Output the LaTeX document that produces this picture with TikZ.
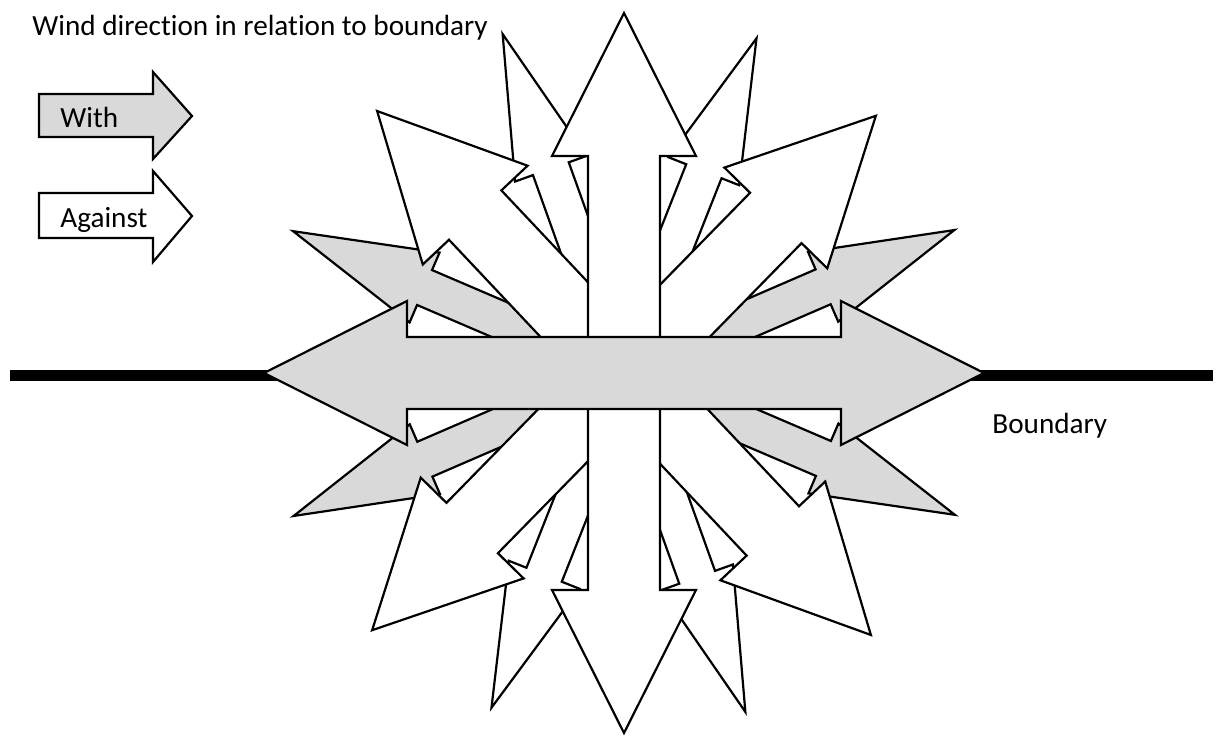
\documentclass[tikz,border=0pt]{standalone}
\usepackage{fontspec}
\setmainfont[Ligatures=NoCommon]{Carlito}
\usetikzlibrary{calc}
\definecolor{windgray}{RGB}{217,217,217}
% double block arrow through (ctr): angle, fill, head half-width, shaft half-width
\newcommand{\windarrow}[4]{%
  \filldraw[arrbox,fill=#2,shift={(ctr)},rotate=#1]
    (-360,0) -- (-217,#3) -- (-217,#4) -- (217,#4) -- (217,#3) -- (360,0)
    -- (217,-#3) -- (217,-#4) -- (-217,-#4) -- (-217,-#3) -- cycle;}

\begin{document}
\begin{tikzpicture}[x=0.5pt,y=0.5pt,
  arrbox/.style={draw=black,line width=1.1pt,line join=miter},
  lbl/.style={inner sep=0pt,anchor=base west,font=\fontsize{14.6}{17}\selectfont},
  bound/.style={line width=5.5pt}]
\useasboundingbox (0,0) rectangle (1222,736);
\coordinate (ctr) at (624,363);
\coordinate (bl) at (10,361);
\coordinate (br) at (1213,361);
\draw[bound] (bl) -- (br);
% narrow ones first, wide ones on top
\foreach \a in {23.4,156.8} {\windarrow{\a}{windgray}{38}{19}}
\foreach \a in {68.4,109.7} {\windarrow{\a}{white}{38}{19}}
\foreach \a in {45.6,133.3} {\windarrow{\a}{white}{72}{36}}
\windarrow{90}{white}{72}{36}
\windarrow{0}{windgray}{72}{36}
% legend
\filldraw[arrbox,fill=windgray] (39,599) -- (153,599) -- (153,577) -- (192,620)
  -- (153,664) -- (153,642) -- (39,642) -- cycle;
\filldraw[arrbox,fill=white] (39,498) -- (153,498) -- (153,474) -- (192,520)
  -- (153,565) -- (153,543) -- (39,543) -- cycle;
\node[lbl] (title) at (32,701) {Wind direction in relation to boundary};
\node[lbl] (with) at (60,609) {With};
\node[lbl] (against) at (60,509) {Against};
\node[lbl] (bnd) at (992,303) {Boundary};
\end{tikzpicture}
\end{document}
